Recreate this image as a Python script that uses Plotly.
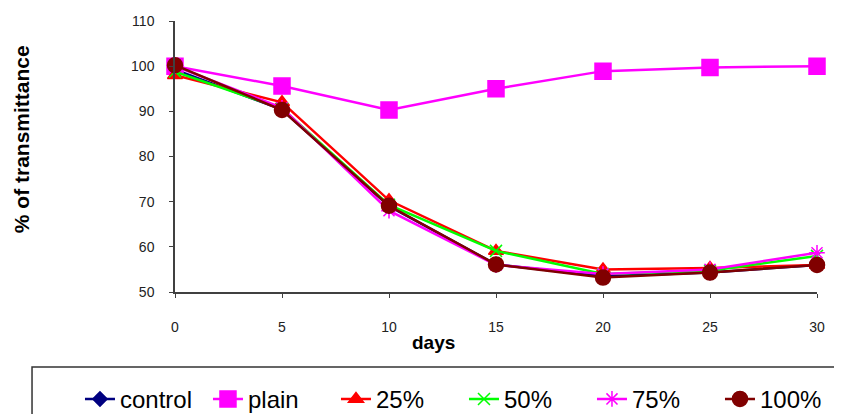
import plotly.graph_objects as go

days = [0, 5, 10, 15, 20, 25, 30]
control = [99.2, 90.4, 69.0, 56.1, 53.5, 54.3, 56.0]
plain = [100.0, 95.6, 90.3, 95.0, 98.9, 99.7, 100.0]
p25 = [98.0, 92.0, 70.3, 59.1, 55.0, 55.3, 56.0]
p50 = [98.8, 90.6, 69.3, 59.1, 54.0, 54.7, 58.0]
p75 = [100.0, 90.8, 68.0, 56.0, 54.0, 55.0, 58.7]
p100 = [100.2, 90.3, 69.1, 56.1, 53.2, 54.3, 56.0]

series = [
    ("control", control, "#000080", "diamond", 11),
    ("plain", plain, "#FF00FF", "square", 16),
    ("25%", p25, "#FF0000", "triangle-up", 13),
    ("50%", p50, "#00FF00", "x-thin-open", 12),
    ("75%", p75, "#FF00FF", "asterisk-open", 13),
    ("100%", p100, "#800000", "circle", 15),
]

fig = go.Figure()
for name, vals, col, sym, sz in series:
    fig.add_trace(go.Scatter(
        x=days, y=vals, name=name, mode="lines+markers",
        line=dict(color=col, width=2.5),
        marker=dict(symbol=sym, size=sz, color=col, line=dict(color=col, width=1.5)),
        cliponaxis=False,
    ))

fig.update_layout(
    width=842, height=414,
    margin=dict(l=167, r=33, t=13, b=130, autoexpand=False),
    paper_bgcolor="white", plot_bgcolor="white",
    font=dict(family="Arial, Liberation Sans, sans-serif", color="#222"),
    showlegend=True,
    legend=dict(
        orientation="h", x=-0.148, y=-0.313, xanchor="left", yanchor="top",
        borderwidth=0, bgcolor="rgba(0,0,0,0)",
        font=dict(size=24, color="#000"),
        itemwidth=30, entrywidth=83,
    ),
    xaxis=dict(
        range=[0, 30], tickvals=days, ticks="outside", ticklen=4,
        showline=True, linecolor="#404040", linewidth=1.5, tickcolor="#404040",
        showgrid=False, zeroline=False, ticklabelstandoff=17,
        tickfont=dict(size=14, color="#222"),
    ),
    yaxis=dict(
        range=[50, 110], dtick=10, ticks="outside", ticklen=4,
        showline=True, linecolor="#404040", linewidth=1.5, tickcolor="#404040",
        showgrid=False, zeroline=False, ticklabelstandoff=12,
        tickfont=dict(size=14, color="#222"),
    ),
    shapes=[
        dict(type="rect", xref="paper", yref="paper",
             x0=-0.2227, x1=1.08, y0=-0.2768, y1=-0.52,
             line=dict(color="#333", width=1.5), fillcolor="rgba(0,0,0,0)",
             layer="below"),
    ],
    annotations=[
        dict(text="<b>% of transmittance</b>", textangle=-90, x=-0.238, y=0.5646,
             xref="paper", yref="paper", showarrow=False,
             xanchor="center", yanchor="middle",
             font=dict(size=21, color="#000")),
        dict(text="<b>days</b>", x=0.402, y=-0.188, xref="paper", yref="paper",
             showarrow=False, xanchor="center", yanchor="middle",
             font=dict(size=19, color="#000")),
    ],
)

fig.write_html("out.html")
